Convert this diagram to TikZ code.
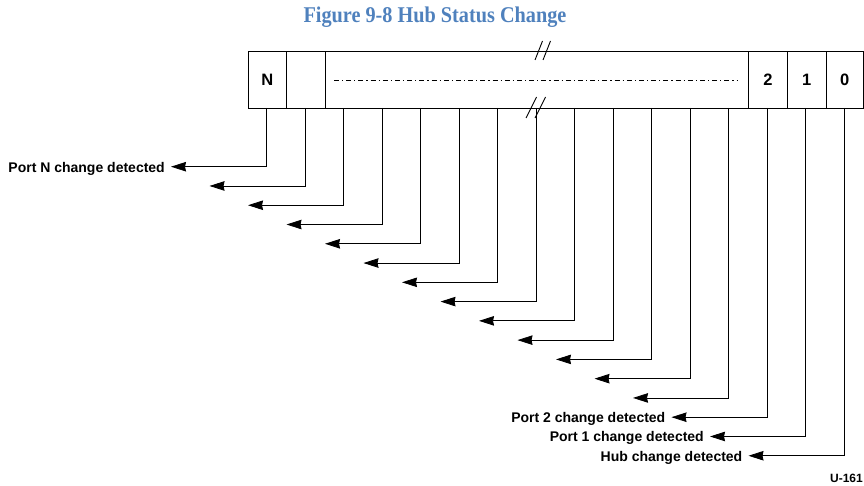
\documentclass[tikz,border=0pt]{standalone}
\usepackage{fontspec}
\setmainfont{Liberation Sans}
\newfontfamily\titlefont{Liberation Serif}
\usetikzlibrary{arrows.meta}
\definecolor{titleblue}{RGB}{79,129,189}
\begin{document}
\begin{tikzpicture}[x=1pt,y=-1pt,
  cell/.style={draw=black, line width=0.8pt, minimum height=57pt, inner sep=0pt,
    font=\fontsize{16.5}{16.5}\selectfont\bfseries, anchor=north west},
  wire/.style={line width=0.8pt, -{Stealth[length=15pt,width=9.5pt,inset=1pt]}},
  lbl/.style={anchor=base east, inner sep=0pt, font=\fontsize{14}{14}\selectfont\bfseries},
  brk/.style={line width=0.9pt},
  dashdot/.style={line width=0.6pt, dash pattern=on 5pt off 3pt on 1.2pt off 3pt},
]
\useasboundingbox (0,0) rectangle (864,486);

% title
\node[text=titleblue, inner sep=0pt] (title) at (435,17)
  {\scalebox{0.9}[1]{\titlefont\bfseries\fontsize{22.5}{22.5}\selectfont Figure 9-8 Hub Status Change}};

% register cells
\node[cell, minimum width=38.8pt] (cN) at (247.5,51) {N};
\node[cell, minimum width=38.4pt] (cB) at (286.3,51) {};
\node[cell, minimum width=423.6pt] (cM) at (324.7,51) {};
\node[cell, minimum width=38.4pt] (c2) at (748.3,51) {2};
\node[cell, minimum width=39pt] (c1) at (786.7,51) {1};
\node[cell, minimum width=37.3pt] (c0) at (825.7,51) {0};

% dash-dot line in the middle cell
\coordinate (dl) at (334,80);
\coordinate (dr) at (738,80);
\draw[dashdot] (dl) -- (dr);

% break marks
\draw[brk] (535,60) -- (542.5,41);
\draw[brk] (543,60) -- (550.5,41);
\draw[brk] (526,118) -- (536.5,97);
\draw[brk] (535,118) -- (545.5,97);

% connectors
\foreach \i in {0,...,15} {
  \coordinate (v\i) at ({266.7+38.5*\i},108);
  \coordinate (t\i) at ({171+38.5*\i},{166.7+19.27*\i});
  \draw[wire] (v\i) |- (t\i);
}

% labels
\node[lbl] (lN) at ({171-6},{166.7+5.5}) {Port N change detected};
\node[lbl] (l2) at ({171+38.5*13-6},{166.7+19.27*13+5.5}) {Port 2 change detected};
\node[lbl] (l1) at ({171+38.5*14-6},{166.7+19.27*14+5.5}) {Port 1 change detected};
\node[lbl] (lH) at ({171+38.5*15-6},{166.7+19.27*15+5.5}) {Hub change detected};

% figure id
\node[anchor=base east, inner sep=0pt, font=\fontsize{12}{12}\selectfont\bfseries] (uid) at (863,482) {U-161};
\end{tikzpicture}
\end{document}
